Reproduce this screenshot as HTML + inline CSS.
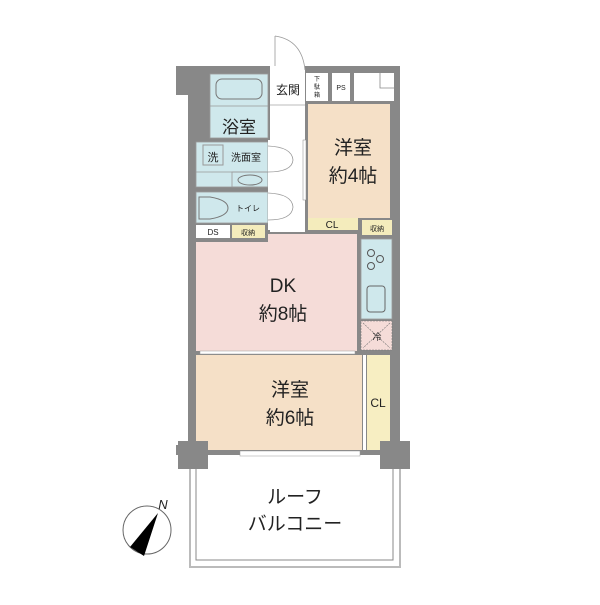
<!DOCTYPE html>
<html><head><meta charset="utf-8"><style>
body{margin:0;background:#fff}
text{font-family:"Liberation Sans","Noto Sans CJK JP",sans-serif;fill:#222}
</style></head><body>
<svg width="600" height="600" viewBox="0 0 600 600" xmlns="http://www.w3.org/2000/svg">
<path d="M176 66 H400 V455 H176 V95 H176 Z" fill="#888"/>
<rect x="176" y="95" width="12" height="350" fill="#fff"/>
<rect x="188" y="95" width="8" height="360" fill="#888"/>
<rect x="270" y="66" width="35" height="40" fill="#fff"/>
<rect x="210" y="74" width="58" height="64" fill="#cfe8ec" stroke="#999" stroke-width="0.8"/>
<rect x="216" y="79" width="46" height="20" rx="6" fill="none" stroke="#777"/>
<line x1="210" y1="106" x2="268" y2="106" stroke="#999" stroke-width="0.8"/>
<text x="239" y="133" font-size="17" text-anchor="middle">浴室</text>
<rect x="196" y="142" width="72" height="45" fill="#cfe8ec" stroke="#999" stroke-width="0.8"/>
<rect x="203" y="145" width="20" height="20" fill="none" stroke="#999"/>
<text x="213" y="161" font-size="11" text-anchor="middle">洗</text>
<text x="246" y="161" font-size="10" text-anchor="middle">洗面室</text>
<line x1="196" y1="172" x2="268" y2="172" stroke="#999" stroke-width="0.8"/>
<rect x="232" y="172" width="36" height="15" fill="none" stroke="#999" stroke-width="0.8"/>
<ellipse cx="250" cy="180" rx="12" ry="5" fill="none" stroke="#777"/>
<rect x="196" y="192" width="72" height="31" fill="#cfe8ec" stroke="#999" stroke-width="0.8"/>
<path d="M199 197 H210 Q228 200 228 208 Q228 216 210 219 H199 Z" fill="none" stroke="#777"/>
<text x="248" y="211" font-size="8" text-anchor="middle">トイレ</text>
<rect x="196" y="225" width="34" height="13" fill="#fff"/>
<text x="213" y="235" font-size="8" text-anchor="middle">DS</text>
<rect x="232" y="225" width="33" height="13" fill="#f4ecbc"/>
<text x="248" y="235" font-size="7" text-anchor="middle">収納</text>
<rect x="270" y="106" width="35" height="126" fill="#fff"/>
<rect x="268" y="140" width="2" height="90" fill="#fff"/>
<path d="M268 146 Q292 147 293 160 Q292 172 268 172" fill="none" stroke="#999" stroke-width="0.8"/>
<path d="M268 193 Q292 194 293 207 Q292 220 268 220" fill="none" stroke="#999" stroke-width="0.8"/>
<text x="288" y="94" font-size="12" text-anchor="middle">玄関</text>
<line x1="270" y1="105" x2="305" y2="105" stroke="#bbb"/>
<path d="M275 36 V66 M275 36 Q302 40 305 70" fill="none" stroke="#999" stroke-width="0.8"/>
<rect x="306" y="73" width="22" height="28" fill="#fff"/>
<text x="317" y="81" font-size="6" text-anchor="middle">下</text>
<text x="317" y="89" font-size="6" text-anchor="middle">駄</text>
<text x="317" y="97" font-size="6" text-anchor="middle">箱</text>
<rect x="332" y="73" width="18" height="28" fill="#fff"/>
<text x="341" y="90" font-size="7" text-anchor="middle">PS</text>
<rect x="354" y="73" width="40" height="28" fill="#fff"/>
<path d="M380 73 V88 H394" fill="none" stroke="#888" stroke-width="0.8"/>
<rect x="308" y="104" width="82" height="114" fill="#f5e0c7"/>
<text x="353" y="154" font-size="19" text-anchor="middle">洋室</text>
<text x="353" y="182" font-size="19" text-anchor="middle">約4帖</text>
<rect x="303" y="140" width="3" height="60" fill="#fff" stroke="#888" stroke-width="0.5"/>
<rect x="308" y="218" width="50" height="12" fill="#f4ecbc"/>
<text x="332" y="228" font-size="10" text-anchor="middle">CL</text>
<rect x="362" y="220" width="30" height="15" fill="#f4ecbc"/>
<text x="377" y="231" font-size="7" text-anchor="middle">収納</text>
<path d="M196 242 H268 V234 H357 V351 H196 Z" fill="#f5dcd8"/>
<text x="283" y="292" font-size="19" text-anchor="middle">DK</text>
<text x="283" y="320" font-size="19" text-anchor="middle">約8帖</text>
<rect x="361" y="239" width="31" height="80" fill="#cfe8ec" stroke="#999" stroke-width="0.8"/>
<circle cx="371" cy="253" r="3.5" fill="none" stroke="#555"/>
<circle cx="380" cy="259" r="3.5" fill="none" stroke="#555"/>
<circle cx="371" cy="266" r="3.5" fill="none" stroke="#555"/>
<rect x="367" y="286" width="18" height="26" rx="3" fill="none" stroke="#666"/>
<rect x="361" y="321" width="31" height="29" fill="#f5dcd8" stroke="#777" stroke-width="0.6" stroke-dasharray="2,1"/>
<path d="M363 323 L390 348 M390 323 L363 348" stroke="#777" stroke-width="0.6" stroke-dasharray="2,1"/>
<text x="377" y="340" font-size="9" text-anchor="middle">冷</text>
<rect x="196" y="355" width="166" height="95" fill="#f5e0c7"/>
<rect x="200" y="351" width="155" height="3" fill="#fff" stroke="#999" stroke-width="0.5"/>
<text x="290" y="396" font-size="19" text-anchor="middle">洋室</text>
<text x="290" y="424" font-size="19" text-anchor="middle">約6帖</text>
<rect x="367" y="355" width="23" height="95" fill="#f7eec2"/>
<rect x="363" y="355" width="3" height="95" fill="#fff"/>
<text x="378" y="407" font-size="12" text-anchor="middle">CL</text>
<rect x="178" y="441" width="30" height="28" fill="#888"/>
<rect x="380" y="441" width="30" height="28" fill="#888"/>
<rect x="240" y="451" width="120" height="5" fill="#fff" stroke="#999" stroke-width="0.5"/>
<path d="M190 469 V567 H400 V469" fill="none" stroke="#bbb" stroke-width="2"/>
<path d="M196 469 V560 H393 V469" fill="none" stroke="#888" stroke-width="1"/>
<text x="295" y="503" font-size="19" text-anchor="middle">ルーフ</text>
<text x="295" y="530" font-size="19" text-anchor="middle">バルコニー</text>
<circle cx="147" cy="530" r="24" fill="#fff" stroke="#666"/>
<path d="M130 547 L144 556 L158 513 Z" fill="#000"/>
<text x="163" y="509" font-size="13" font-style="italic" text-anchor="middle">N</text>
</svg>
</body></html>
